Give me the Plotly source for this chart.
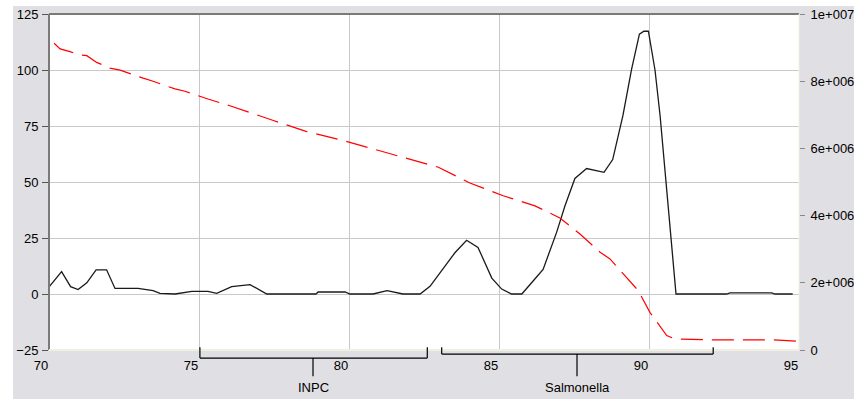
import plotly.graph_objects as go

# ---- data ----
black_x = [69.98, 70.42, 70.72, 70.97, 71.26, 71.57, 71.92, 72.2, 72.97, 73.47, 73.7, 74.2,
           74.76, 75.3, 75.59, 76.09, 76.7, 77.26, 78.9, 78.97, 79.87, 80.03, 80.8, 81.27,
           81.8, 82.37, 82.7, 83.09, 83.53, 83.92, 84.3, 84.76, 85.09, 85.42, 85.76, 86.13,
           86.47, 86.92, 87.2, 87.53, 87.92, 88.5, 88.79, 89.13, 89.42, 89.68, 89.83, 89.98,
           90.2, 90.37, 90.57, 90.73, 90.9, 92.59, 92.7, 94.09, 94.2, 94.79]
black_y = [2.8, 10, 3.3, 2, 5, 10.8, 10.8, 2.5, 2.5, 1.5, 0.3, 0,
           1.2, 1.2, 0.3, 3.3, 4.2, 0, 0, 0.9, 0.9, 0, 0, 1.5,
           0, 0, 3.4, 10.4, 18.4, 24, 20.8, 7.1, 2.2, 0, 0, 5.7,
           11, 27.5, 39.4, 51.6, 56, 54.3, 60, 79.6, 100.4, 116, 117.3, 117.3,
           100, 79.6, 50, 24.5, 0, 0, 0.5, 0.5, 0, 0]

red_x = [70.17, 70.37, 70.7, 70.98, 71.26, 71.59, 72.03, 72.37, 73.14, 73.47, 74.2, 74.53,
         75.3, 76.03, 77.48, 78.59, 79.7, 80.81, 81.87, 82.98, 84.03, 85.14, 86.2, 87.03,
         87.7, 88.37, 88.7, 89.37, 89.64, 90.03, 90.26, 90.59, 90.87, 92.26, 94.13, 95.0]
red_y = [9.13e6, 8.96e6, 8.88e6, 8.79e6, 8.76e6, 8.56e6, 8.39e6, 8.33e6, 8.09e6, 8.00e6, 7.77e6, 7.70e6,
         7.47e6, 7.27e6, 6.83e6, 6.50e6, 6.26e6, 5.98e6, 5.71e6, 5.44e6, 4.97e6, 4.59e6, 4.29e6, 3.93e6,
         3.45e6, 2.91e6, 2.71e6, 2.06e6, 1.77e6, 1.12e6, 0.83e6, 0.43e6, 0.33e6, 0.30e6, 0.30e6, 0.26e6]

left_ticks = [-25, 0, 25, 50, 75, 100, 125]
right_ticks = [0, 2e6, 4e6, 6e6, 8e6, 1e7]
right_labels = ["0", "2e+006", "4e+006", "6e+006", "8e+006", "1e+007"]
x_ticks = [70, 75, 80, 85, 90, 95]

regions = ["INPC", "Salmonella"]
region_start = [75.03, 83.09]
region_end = [82.61, 92.14]
region_mid = [78.8, 87.6]
region_level = [-0.024, -0.012]

# ---- figure ----
FONT = "Liberation Sans"
BG = "#e0dfe3"

fig = go.Figure()
fig.add_trace(go.Scatter(x=black_x, y=black_y, mode="lines",
                         line=dict(color="#1a1a1a", width=1.3), yaxis="y", showlegend=False))
fig.add_trace(go.Scatter(x=red_x, y=red_y, mode="lines",
                         line=dict(color="#ff0000", width=1.2, dash="22px,9px"),
                         yaxis="y2", showlegend=False))

shapes = []
# white strips at the very top and left of the window
shapes.append(dict(type="rect", xref="paper", yref="paper", x0=-0.07, x1=1.08, y0=1.024, y1=1.05,
                   fillcolor="#ffffff", line=dict(width=0), layer="below"))
shapes.append(dict(type="rect", xref="paper", yref="paper", x0=-0.07, x1=-0.048, y0=-0.16, y1=1.05,
                   fillcolor="#ffffff", line=dict(width=0), layer="below"))
# borders: dark left & top, light bottom & right
shapes.append(dict(type="line", xref="paper", yref="paper", x0=0, x1=0, y0=0, y1=1,
                   line=dict(color="#7a7a7a", width=2)))
shapes.append(dict(type="line", xref="paper", yref="paper", x0=0, x1=1, y0=1, y1=1,
                   line=dict(color="#7a7a7a", width=2)))
shapes.append(dict(type="line", xref="paper", yref="paper", x0=0, x1=1, y0=0, y1=0,
                   line=dict(color="#f1efe2", width=2)))
shapes.append(dict(type="line", xref="paper", yref="paper", x0=1, x1=1, y0=0, y1=1,
                   line=dict(color="#f1efe2", width=1)))

annotations = []
for name, s, e, m, lv in zip(regions, region_start, region_end, region_mid, region_level):
    ln = dict(color="#000000", width=1.2)
    shapes.append(dict(type="line", xref="x", yref="paper", x0=s, x1=e, y0=lv, y1=lv, line=ln))
    shapes.append(dict(type="line", xref="x", yref="paper", x0=s, x1=s, y0=lv, y1=0.008, line=ln))
    shapes.append(dict(type="line", xref="x", yref="paper", x0=e, x1=e, y0=lv, y1=0.008, line=ln))
    shapes.append(dict(type="line", xref="x", yref="paper", x0=m, x1=m, y0=lv, y1=-0.078, line=ln))
    annotations.append(dict(x=m, y=-0.082, xref="x", yref="paper", text=name, showarrow=False,
                            xanchor="center", yanchor="top", font=dict(family=FONT, size=13, color="#000")))

fig.update_layout(
    width=854, height=399,
    margin=dict(l=49, r=55, t=14, b=49, autoexpand=False),
    paper_bgcolor=BG,
    plot_bgcolor="#ffffff",
    font=dict(family=FONT, size=13, color="#000000"),
    shapes=shapes,
    annotations=annotations,
    xaxis=dict(range=[70, 95], tickvals=x_ticks, ticks="", showline=False, zeroline=False,
               showgrid=True, gridcolor="#c8c8c8", gridwidth=1, automargin=False,
               ticklabelshift=-8, ticklabelstandoff=6, tickfont=dict(family=FONT, size=13)),
    yaxis=dict(range=[-25, 125], tickvals=left_ticks, ticks="outside", ticklen=6, tickcolor="#555",
               showline=False, zeroline=False, showgrid=True, gridcolor="#c8c8c8", gridwidth=1,
               automargin=False, ticklabelstandoff=1, tickfont=dict(family=FONT, size=13)),
    yaxis2=dict(range=[0, 1e7], overlaying="y", side="right", tickvals=right_ticks,
                ticktext=right_labels, ticks="outside", ticklen=5, tickcolor="#888",
                showgrid=False, zeroline=False, showline=False, automargin=False,
                ticklabelstandoff=3, tickfont=dict(family=FONT, size=13)),
)

fig.write_html("out.html", config={"displayModeBar": False},
               post_script="document.body.style.margin='0';document.body.style.overflow='hidden';")
